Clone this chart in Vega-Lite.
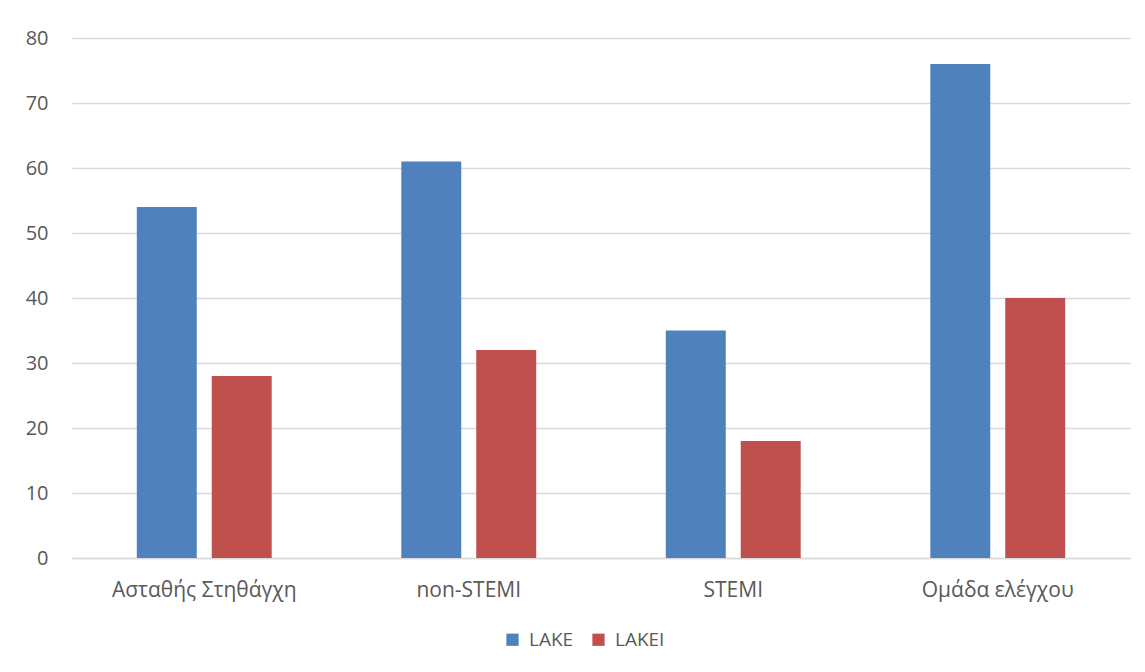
{
  "$schema": "https://vega.github.io/schema/vega-lite/v6.json",
  "autosize": {"type": "none"},
  "width": 1058,
  "height": 520,
  "padding": {"left": 72, "top": 38, "right": 15, "bottom": 114},
  "background": "white",
  "config": {
    "view": {"stroke": null},
    "font": "Open Sans"
  },
  "data": {
    "values": [
      {"group": "Ασταθής Στηθάγχη", "series": "LAKE", "value": 54},
      {"group": "Ασταθής Στηθάγχη", "series": "LAKEI", "value": 28},
      {"group": "non-STEMI", "series": "LAKE", "value": 61},
      {"group": "non-STEMI", "series": "LAKEI", "value": 32},
      {"group": "STEMI", "series": "LAKE", "value": 35},
      {"group": "STEMI", "series": "LAKEI", "value": 18},
      {"group": "Ομάδα ελέγχου", "series": "LAKE", "value": 76},
      {"group": "Ομάδα ελέγχου", "series": "LAKEI", "value": 40}
    ]
  },
  "mark": {"type": "bar"},
  "encoding": {
    "x": {
      "field": "group", "type": "nominal", "sort": null,
      "scale": {"paddingInner": 0.49, "paddingOuter": 0.245},
      "axis": {"title": null, "ticks": false, "labelFont": "Open Sans", "labelColor": "#595959", "labelFontSize": 21, "labelLimit": 0, "labelAngle": 0, "labelPadding": 21, "domainColor": "#D9D9D9", "domainWidth": 1.5, "grid": false}
    },
    "xOffset": {"field": "series", "type": "nominal", "scale": {"paddingInner": 0.2, "paddingOuter": 0}},
    "y": {
      "field": "value", "type": "quantitative",
      "scale": {"domain": [0, 80]},
      "axis": {"title": null, "ticks": false, "labelFont": "Open Sans", "labelColor": "#595959", "labelFontSize": 20, "values": [0, 10, 20, 30, 40, 50, 60, 70, 80], "domain": false, "gridColor": "#D9D9D9", "gridWidth": 1.5, "labelPadding": 24}
    },
    "color": {
      "field": "series", "type": "nominal",
      "scale": {"domain": ["LAKE", "LAKEI"], "range": ["#4F81BD", "#C0504D"]},
      "legend": {
        "title": null, "orient": "none", "direction": "horizontal",
        "legendX": 431, "legendY": 592,
        "symbolType": "square", "symbolSize": 150, "symbolStrokeWidth": 0, "symbolOpacity": 1,
        "labelFontSize": 19, "labelColor": "#595959", "labelFont": "Open Sans", "columnPadding": 15, "labelOffset": 7
      }
    }
  }
}
